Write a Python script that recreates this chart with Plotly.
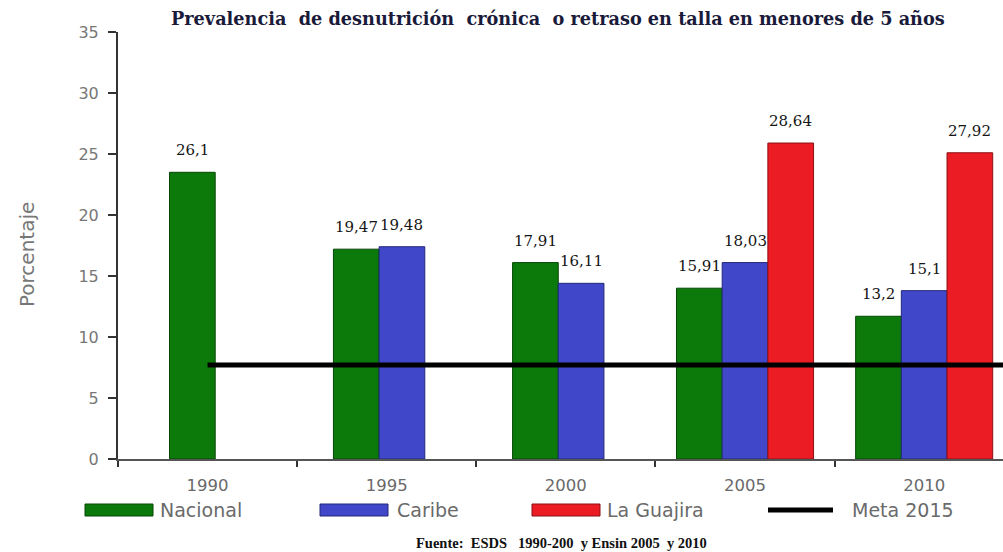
import plotly.graph_objects as go

# ---------------- data ----------------
years = ["1990", "1995", "2000", "2005", "2010"]
series_names = ["Nacional", "Caribe", "La Guajira"]
# bar heights as drawn in the picture
nacional = [23.5, 17.2, 16.1, 14.0, 11.7]
caribe = [None, 17.4, 14.4, 16.1, 13.8]
guajira = [None, None, None, 25.9, 25.1]
# printed value labels
nacional_lbl = ["26,1", "19,47", "17,91", "15,91", "13,2"]
caribe_lbl = [None, "19,48", "16,11", "18,03", "15,1"]
guajira_lbl = [None, None, None, "28,64", "27,92"]
meta_name = "Meta 2015"
meta_value = 7.7
y_ticks = [0, 5, 10, 15, 20, 25, 30, 35]
title_text = "Prevalencia  de desnutrición  crónica  o retraso en talla en menores de 5 años"
source_text = "Fuente:  ESDS   1990-200  y Ensin 2005  y 2010"

values = [nacional, caribe, guajira]
labels = [nacional_lbl, caribe_lbl, guajira_lbl]
colors = ["#0b7a0b", "#4047c8", "#ec1c24"]
edges = ["#064806", "#22287a", "#8a1015"]

# ---------------- layout constants ----------------
W, H = 1003, 552
ML, MR, MT, MB = 118, 0, 32, 93
PW = W - ML - MR
PH = H - MT - MB
XMAX = 4.44
BW = 0.255  # bar width in category units

label_font = "DejaVu Serif"
gray_font = "DejaVu Sans"
gray = "#6a6a6a"


def px_x(px):
    return (px - ML) / PW


def px_y(py):
    return (H - MB - py) / PH


fig = go.Figure()
annotations = []

# offsets depending on how many series are present in each category
n_present = [sum(1 for s in values if s[i] is not None) for i in range(len(years))]
for si, (name, vals, lbls) in enumerate(zip(series_names, values, labels)):
    offs = []
    for i in range(len(years)):
        n = n_present[i]
        slot = sum(1 for s in values[:si] if s[i] is not None)
        left = -1.5 * BW + (3 - n) * BW / 3 + slot * BW
        offs.append(left)
        if vals[i] is not None:
            annotations.append(dict(
                x=i + left + BW / 2, y=vals[i], xref="x", yref="y",
                text=lbls[i], showarrow=False, yanchor="bottom", yshift=11,
                font=dict(family=label_font, size=15, color="#151515"),
            ))
    fig.add_trace(go.Bar(
        x=years, y=vals, name=name, offset=offs, width=BW,
        marker=dict(color=colors[si], line=dict(color=edges[si], width=1)),
        showlegend=False,
    ))

# Meta 2015 line
shapes = [dict(type="line", xref="x", yref="y", x0=0, x1=XMAX,
               y0=meta_value, y1=meta_value, layer="above",
               line=dict(color="black", width=5))]

# custom legend (wide swatches like the reference)
leg_sw_left = [85, 320, 532, 768]
leg_txt_left = [158, 395, 605, 850]
leg_names = series_names + [meta_name]
leg_y = 510
for k, nm in enumerate(leg_names):
    if k < 3:
        shapes.append(dict(type="rect", xref="paper", yref="paper",
                           x0=px_x(leg_sw_left[k]), x1=px_x(leg_sw_left[k] + 68),
                           y0=px_y(leg_y + 6), y1=px_y(leg_y - 6),
                           fillcolor=colors[k], line=dict(color=edges[k], width=1)))
    else:
        shapes.append(dict(type="line", xref="paper", yref="paper",
                           x0=px_x(leg_sw_left[k]), x1=px_x(leg_sw_left[k] + 65),
                           y0=px_y(leg_y), y1=px_y(leg_y),
                           line=dict(color="black", width=5)))
    annotations.append(dict(
        x=px_x(leg_txt_left[k]), y=px_y(leg_y), xref="paper", yref="paper",
        xanchor="left", yanchor="middle", text=nm, showarrow=False,
        font=dict(family=gray_font, size=19, color=gray),
    ))

# y axis title
annotations.append(dict(
    x=px_x(27), y=px_y(255), xref="paper", yref="paper", text="Porcentaje",
    textangle=-90, showarrow=False, xanchor="center", yanchor="middle",
    font=dict(family=gray_font, size=20, color="#777777"),
))
# title
annotations.append(dict(
    x=px_x(558), y=px_y(19), xref="paper", yref="paper", text="<b>" + title_text + "</b>",
    showarrow=False, xanchor="center", yanchor="middle",
    font=dict(family=label_font, size=17.7, color="#1a1a3a"),
))
# source
annotations.append(dict(
    x=px_x(561), y=px_y(543), xref="paper", yref="paper", text="<b>" + source_text + "</b>",
    showarrow=False, xanchor="center", yanchor="middle",
    font=dict(family="Liberation Serif", size=14.5, color="#111111"),
))

fig.update_layout(
    width=W, height=H,
    margin=dict(l=ML, r=MR, t=MT, b=MB, pad=0),
    paper_bgcolor="white", plot_bgcolor="white",
    barmode="overlay",
    showlegend=False,
    shapes=shapes,
    annotations=annotations,
    xaxis=dict(
        type="category", range=[-0.5, XMAX], tickson="boundaries",
        ticks="outside", ticklen=6, tickcolor="#333333", tickwidth=2,
        showline=True, linecolor="#555555", linewidth=2,
        showgrid=False, zeroline=False,
        tickfont=dict(family=gray_font, size=16.5, color=gray),
        ticklabelstandoff=10,
    ),
    yaxis=dict(
        range=[0, 35], tickvals=y_ticks, ticks="outside", ticklen=8,
        tickcolor="#333333", tickwidth=2,
        showline=True, linecolor="#333333", linewidth=2,
        showgrid=False, zeroline=False,
        tickfont=dict(family=gray_font, size=16, color="#777777"),
        ticklabelstandoff=6,
    ),
)

fig.write_html("out.html", config={"displayModeBar": False},
               post_script="document.body.style.margin='0px';")
